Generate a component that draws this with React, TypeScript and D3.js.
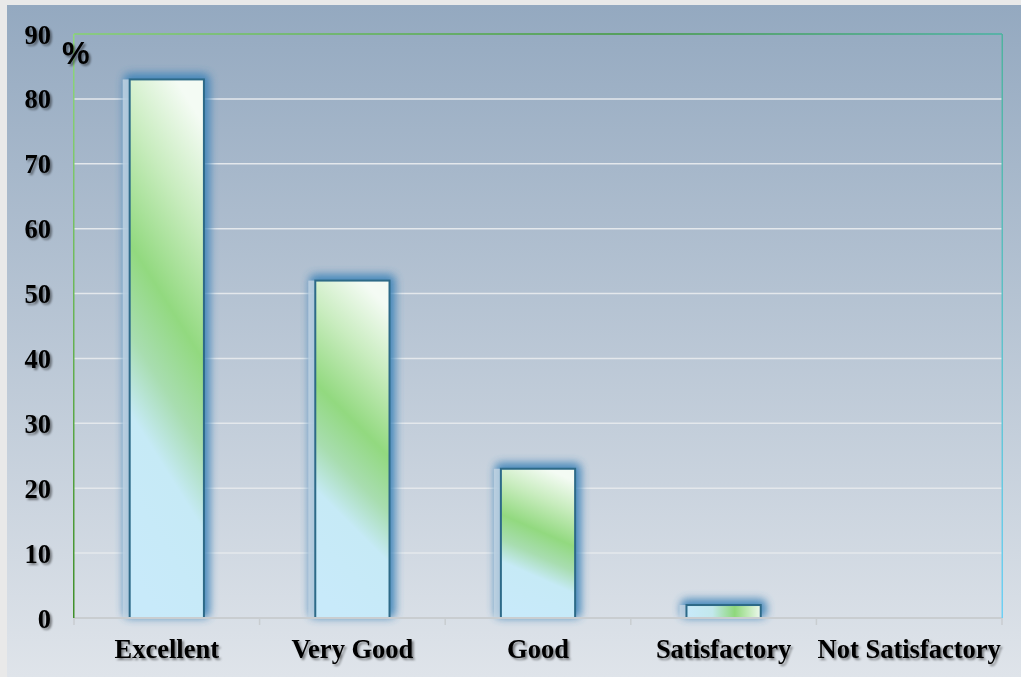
import React, { useEffect, useRef } from "react";
import * as d3 from "d3";

const categories = ["Excellent", "Very Good", "Good", "Satisfactory", "Not Satisfactory"];
const values = [83, 52, 23, 2, 0];
const yTicks = [0, 10, 20, 30, 40, 50, 60, 70, 80, 90];

const App: React.FC = () => {
  const svgRef = useRef<SVGSVGElement | null>(null);

  useEffect(() => {
    const width = 1021;
    const height = 677;
    const margin = { top: 34, right: 19, bottom: 59, left: 74 };

    const svg = d3.select(svgRef.current).attr("width", width).attr("height", height);
    svg.selectAll("*").remove();

    const defs = svg.append("defs");

    const bg = defs
      .append("linearGradient")
      .attr("id", "bg")
      .attr("x1", 0).attr("y1", 0).attr("x2", 0).attr("y2", 1);
    bg.append("stop").attr("offset", "0%").attr("stop-color", "#94a9c0");
    bg.append("stop").attr("offset", "100%").attr("stop-color", "#dfe4ea");

    const barGrad = defs
      .append("linearGradient")
      .attr("id", "barFill")
      .attr("x1", 0.62).attr("y1", 0).attr("x2", 0.4).attr("y2", 1);
    barGrad.append("stop").attr("offset", "0%").attr("stop-color", "#f4fbf4");
    barGrad.append("stop").attr("offset", "20%").attr("stop-color", "#c8ecbe");
    barGrad.append("stop").attr("offset", "42%").attr("stop-color", "#92d97f");
    barGrad.append("stop").attr("offset", "58%").attr("stop-color", "#a8ddb0");
    barGrad.append("stop").attr("offset", "72%").attr("stop-color", "#c6eaf6");
    barGrad.append("stop").attr("offset", "100%").attr("stop-color", "#c8eafa");

    const smallGrad = defs
      .append("linearGradient")
      .attr("id", "barSmall")
      .attr("x1", 0).attr("y1", 0).attr("x2", 1).attr("y2", 0);
    smallGrad.append("stop").attr("offset", "0%").attr("stop-color", "#c8eafa");
    smallGrad.append("stop").attr("offset", "35%").attr("stop-color", "#c2e8ec");
    smallGrad.append("stop").attr("offset", "65%").attr("stop-color", "#8fd87c");
    smallGrad.append("stop").attr("offset", "100%").attr("stop-color", "#eef9ee");

    const topLine = defs
      .append("linearGradient")
      .attr("id", "topLine")
      .attr("gradientUnits", "userSpaceOnUse")
      .attr("x1", margin.left).attr("y1", 0).attr("x2", width - margin.right).attr("y2", 0);
    topLine.append("stop").attr("offset", "0%").attr("stop-color", "#86d46e");
    topLine.append("stop").attr("offset", "60%").attr("stop-color", "#3f9a3a");
    topLine.append("stop").attr("offset", "100%").attr("stop-color", "#46b3a0");

    const rightLine = defs
      .append("linearGradient")
      .attr("id", "rightLine")
      .attr("gradientUnits", "userSpaceOnUse")
      .attr("x1", 0).attr("y1", margin.top).attr("x2", 0).attr("y2", height - margin.bottom);
    rightLine.append("stop").attr("offset", "0%").attr("stop-color", "#4fb39e");
    rightLine.append("stop").attr("offset", "100%").attr("stop-color", "#6fd0f5");

    const leftLine = defs
      .append("linearGradient")
      .attr("id", "leftLine")
      .attr("gradientUnits", "userSpaceOnUse")
      .attr("x1", 0).attr("y1", margin.top).attr("x2", 0).attr("y2", height - margin.bottom);
    leftLine.append("stop").attr("offset", "0%").attr("stop-color", "#8fd87c");
    leftLine.append("stop").attr("offset", "100%").attr("stop-color", "#3f8f2a");

    const glow = defs
      .append("filter")
      .attr("id", "glow")
      .attr("x", "-50%").attr("y", "-50%").attr("width", "200%").attr("height", "200%");
    glow.append("feGaussianBlur").attr("stdDeviation", 4.5);

    const shadow = defs
      .append("filter")
      .attr("id", "txtShadow")
      .attr("x", "-20%").attr("y", "-20%").attr("width", "140%").attr("height", "160%");
    shadow
      .append("feDropShadow")
      .attr("dx", 2).attr("dy", 2).attr("stdDeviation", 1.2)
      .attr("flood-color", "#000").attr("flood-opacity", 0.45);

    // page frame + background
    svg.append("rect").attr("width", width).attr("height", height).attr("fill", "#e9e9e9");
    svg
      .append("rect")
      .attr("x", 7).attr("y", 5)
      .attr("width", width - 7).attr("height", height - 5)
      .attr("fill", "url(#bg)");

    const x = d3
      .scaleBand()
      .domain(categories)
      .range([margin.left, width - margin.right])
      .paddingInner(0.6)
      .paddingOuter(0.3);

    const y = d3
      .scaleLinear()
      .domain([0, 90])
      .range([height - margin.bottom, margin.top]);

    // gridlines
    svg
      .append("g")
      .selectAll("line")
      .data(yTicks.filter((t) => t > 0 && t < 90))
      .enter()
      .append("line")
      .attr("x1", margin.left)
      .attr("x2", width - margin.right)
      .attr("y1", (d) => y(d))
      .attr("y2", (d) => y(d))
      .attr("stroke", "#e4e8ec")
      .attr("stroke-width", 1.5);

    // bars
    const bars = svg.append("g");
    values.forEach((v, i) => {
      if (v <= 0) return;
      const bx = x(categories[i]) as number;
      const bw = x.bandwidth();
      const by = y(v);
      const bh = y(0) - by;
      bars
        .append("rect")
        .attr("x", bx - 6)
        .attr("y", by - 6)
        .attr("width", bw + 12)
        .attr("height", bh + 6)
        .attr("rx", 6)
        .attr("fill", "#3a82b8")
        .attr("opacity", 0.9)
        .attr("filter", "url(#glow)");
      bars
        .append("rect")
        .attr("x", bx - 7)
        .attr("y", by)
        .attr("width", 7)
        .attr("height", bh)
        .attr("fill", "#c4d6e4")
        .attr("opacity", 0.8);
      bars
        .append("rect")
        .attr("x", bx)
        .attr("y", by)
        .attr("width", bw)
        .attr("height", bh)
        .attr("fill", v < 5 ? "url(#barSmall)" : "url(#barFill)")
        .attr("stroke", "#2d6a88")
        .attr("stroke-width", 2);
    });

    // x axis
    const xAxisG = svg.append("g").attr("transform", `translate(0,${y(0)})`);
    xAxisG
      .append("line")
      .attr("x1", margin.left)
      .attr("x2", width - margin.right)
      .attr("stroke", "#c9cdd0")
      .attr("stroke-width", 2);
    const tickPos = categories.map((c) => (x(c) as number) - (x.step() * x.paddingInner()) / 2);
    tickPos.push(width - margin.right);
    xAxisG
      .selectAll("line.tick")
      .data(tickPos)
      .enter()
      .append("line")
      .attr("class", "tick")
      .attr("x1", (d) => d)
      .attr("x2", (d) => d)
      .attr("y1", 0)
      .attr("y2", 7)
      .attr("stroke", "#c9cdd0")
      .attr("stroke-width", 1.5);

    // plot border lines
    svg
      .append("line")
      .attr("x1", margin.left).attr("x2", width - margin.right)
      .attr("y1", margin.top).attr("y2", margin.top)
      .attr("stroke", "url(#topLine)").attr("stroke-width", 1.5);
    svg
      .append("rect")
      .attr("x", margin.left - 1).attr("y", margin.top)
      .attr("width", 1.5).attr("height", y(0) - margin.top)
      .attr("fill", "url(#leftLine)");
    svg
      .append("rect")
      .attr("x", width - margin.right - 0.5).attr("y", margin.top)
      .attr("width", 1.5).attr("height", y(0) - margin.top)
      .attr("fill", "url(#rightLine)");

    const font = "'Liberation Serif', 'Times New Roman', serif";

    // y tick labels
    svg
      .append("g")
      .selectAll("text")
      .data(yTicks)
      .enter()
      .append("text")
      .attr("x", 51)
      .attr("y", (d) => y(d))
      .attr("dy", "0.36em")
      .attr("text-anchor", "end")
      .attr("filter", "url(#txtShadow)")
      .style("font-family", font)
      .style("font-size", "26.5px")
      .style("font-weight", "bold")
      .style("fill", "#000")
      .text((d) => d);

    // unit label
    svg
      .append("text")
      .attr("x", 62)
      .attr("y", 64)
      .attr("filter", "url(#txtShadow)")
      .style("font-family", "'Liberation Sans', Arial, sans-serif")
      .style("font-size", "31px")
      .style("font-weight", "bold")
      .style("letter-spacing", "-2px")
      .style("fill", "#000")
      .text("%");

    // x labels
    svg
      .append("g")
      .selectAll("text")
      .data(categories)
      .enter()
      .append("text")
      .attr("x", (d) => (x(d) as number) + x.bandwidth() / 2)
      .attr("y", 658)
      .attr("text-anchor", "middle")
      .attr("filter", "url(#txtShadow)")
      .style("font-family", font)
      .style("font-size", "26.5px")
      .style("font-weight", "bold")
      .style("fill", "#000")
      .text((d) => d);
  }, []);

  return <svg ref={svgRef} style={{ position: "absolute", left: 0, top: 0 }}></svg>;
};

export default App;
